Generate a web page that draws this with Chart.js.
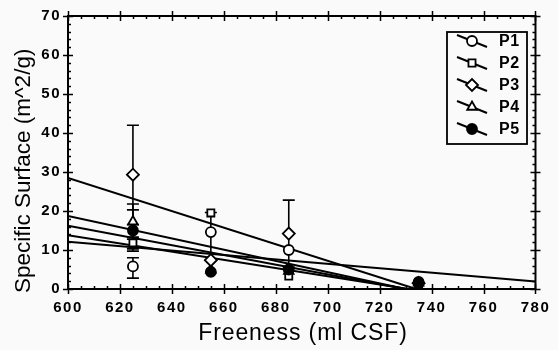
<!DOCTYPE html>
<html>
<head>
<meta charset="utf-8">
<script src="https://cdn.jsdelivr.net/npm/chart.js@4"></script>
<style>
  html, body { margin: 0; padding: 0; background: #fafafa; }
  #wrap { width: 558px; height: 350px; position: relative; }
</style>
</head>
<body>
<div id="wrap"><canvas id="c" width="558" height="350"></canvas></div>
<script>
// Freeness levels (ml CSF) at which the pulps were measured
const freeness = [625, 655, 685, 735];

// Specific surface (m^2/g) per pulp
const seriesNames = ['P1', 'P2', 'P3', 'P4', 'P5'];
const p1 = [5.8, 14.6, 10.0, 1.5];
const p2 = [11.8, 19.5, 3.3, 1.4];
const p3 = [29.3, 7.4, 14.2, 1.5];
const p4 = [17.3, 4.9, 4.6, 1.6];
const p5 = [15.0, 4.4, 5.0, 1.8];

// Error bar limits [low, high] per point (null = none drawn)
const p1Err = [[2.8, 8.0], [7.4, 19.6], null, null];
const p2Err = [[10.3, 13.3], null, null, null];
const p3Err = [[16.5, 42.0], null, [5.6, 22.8], null];
const p4Err = [[12.8, 21.8], null, null, null];
const p5Err = [[9.7, 20.3], null, null, null];

// Linear fits: freeness at start/end and specific surface at start/end
const fitX = [[600, 734], [600, 730], [600, 730], [600, 731], [600, 780]];
const fitY = [[28.5, 0], [18.7, 0], [16.2, 0], [13.8, 0], [12.1, 1.9]];

// Axis ticks and titles
const xTicks = [600, 620, 640, 660, 680, 700, 720, 740, 760, 780];
const yTicks = [0, 10, 20, 30, 40, 50, 60, 70];
const xTitle = 'Freeness (ml CSF)';
const yTitle = 'Specific Surface (m^2/g)';

const values = [p1, p2, p3, p4, p5];
const errors = [p1Err, p2Err, p3Err, p4Err, p5Err];
const shapes = ['circle', 'rect', 'rectRot', 'triangle', 'circle'];
const fills = ['#ffffff', '#ffffff', '#ffffff', '#ffffff', '#000000'];
const radii = [5, 5, 6, 5.5, 5];

const FONT = '"Liberation Sans", Arial, sans-serif';

const datasets = [];
fitX.forEach((xs, i) => {
  datasets.push({
    type: 'line',
    label: 'fit' + i,
    data: xs.map((x, k) => ({ x, y: fitY[i][k] })),
    borderColor: '#000',
    borderWidth: 2,
    pointRadius: 0,
    fill: false,
    order: 5
  });
});
values.forEach((vals, i) => {
  datasets.push({
    type: 'scatter',
    label: seriesNames[i],
    data: vals.map((v, k) => ({ x: freeness[k], y: v })),
    pointStyle: shapes[i],
    pointRadius: radii[i],
    pointBorderWidth: 1.8,
    pointBorderColor: '#000',
    pointBackgroundColor: fills[i],
    showLine: false,
    // filled markers sit on top of the open ones
    order: fills[i] === '#000000' ? 0 : 1
  });
});

const AREA = { left: 68, right: 542, top: 16, bottom: 289 };

// error bars, frame with ticks on all four sides, axis titles, legend box
const decorations = {
  id: 'decorations',
  beforeDraw(chart) {
    // slightly tracked-out tick numerals
    chart.ctx.letterSpacing = '1.5px';
  },
  beforeDatasetsDraw(chart) {
    const { ctx, scales: { x, y } } = chart;
    ctx.save();
    ctx.strokeStyle = '#000';
    ctx.lineWidth = 1.6;
    errors.forEach((errs) => {
      errs.forEach((e, k) => {
        if (!e) return;
        const px = x.getPixelForValue(freeness[k]);
        const lo = y.getPixelForValue(e[0]);
        const hi = y.getPixelForValue(e[1]);
        ctx.beginPath();
        ctx.moveTo(px, lo); ctx.lineTo(px, hi);
        ctx.moveTo(px - 6, lo); ctx.lineTo(px + 6, lo);
        ctx.moveTo(px - 6, hi); ctx.lineTo(px + 6, hi);
        ctx.stroke();
      });
    });
    ctx.restore();
  },
  afterDraw(chart) {
    const { ctx, chartArea: a, scales: { x, y } } = chart;
    ctx.save();
    ctx.strokeStyle = '#000';
    ctx.lineWidth = 2;
    ctx.strokeRect(a.left, a.top, a.right - a.left, a.bottom - a.top);
    ctx.lineWidth = 1.5;
    ctx.beginPath();
    // y major and minor ticks, left and right
    for (let v = 0; v <= 70; v += 2) {
      const py = Math.round(y.getPixelForValue(v)) + 0.5;
      const major = v % 10 === 0;
      if (major) {
        ctx.moveTo(a.left - 5, py); ctx.lineTo(a.left + 5, py);
        ctx.moveTo(a.right - 5, py); ctx.lineTo(a.right + 5, py);
      } else {
        ctx.moveTo(a.left, py); ctx.lineTo(a.left + 3, py);
        ctx.moveTo(a.right - 3, py); ctx.lineTo(a.right, py);
      }
    }
    // x major and minor ticks, bottom and top
    for (let v = 600; v <= 780; v += 5) {
      const px = Math.round(x.getPixelForValue(v)) + 0.5;
      const major = v % 20 === 0;
      if (major) {
        ctx.moveTo(px, a.bottom - 5); ctx.lineTo(px, a.bottom + 5);
        ctx.moveTo(px, a.top - 5); ctx.lineTo(px, a.top + 5);
      } else {
        ctx.moveTo(px, a.bottom - 3); ctx.lineTo(px, a.bottom);
        ctx.moveTo(px, a.top); ctx.lineTo(px, a.top + 3);
      }
    }
    ctx.stroke();

    // axis titles
    ctx.fillStyle = '#000';
    ctx.textBaseline = 'alphabetic';
    ctx.letterSpacing = '0.9px';
    ctx.font = '23px ' + FONT;
    ctx.textAlign = 'center';
    ctx.fillText(xTitle, 303, 340);
    ctx.letterSpacing = '0px';
    ctx.save();
    ctx.translate(30, 293);
    ctx.rotate(-Math.PI / 2);
    ctx.font = '22.5px ' + FONT;
    ctx.textAlign = 'left';
    ctx.fillText(yTitle, 0, 0);
    ctx.restore();

    // legend
    const lx = 447, ly = 32, lw = 80, lh = 112;
    ctx.fillStyle = '#fafafa';
    ctx.fillRect(lx, ly, lw, lh);
    ctx.lineWidth = 1.8;
    ctx.strokeRect(lx, ly, lw, lh);
    ctx.font = 'bold 16px ' + FONT;
    ctx.textBaseline = 'middle';
    ctx.textAlign = 'left';
    ctx.letterSpacing = '0.5px';
    seriesNames.forEach((name, i) => {
      const cy = 41 + i * 22;
      const cx = 472;
      ctx.lineWidth = 2;
      ctx.beginPath();
      ctx.moveTo(cx - 15, cy - 6);
      ctx.lineTo(cx + 15, cy + 6);
      ctx.stroke();
      ctx.lineWidth = 1.8;
      ctx.fillStyle = fills[i];
      Chart.helpers.drawPoint(ctx, {
        pointStyle: shapes[i], radius: radii[i], borderWidth: 1.8
      }, cx, cy);
      ctx.fillStyle = '#000';
      ctx.fillText(name, 499, cy + 1);
    });
    ctx.restore();
    ctx.letterSpacing = '0px';
  }
};

new Chart(document.getElementById('c'), {
  data: { datasets },
  options: {
    responsive: false,
    animation: false,
    layout: { padding: { left: 0, right: 558 - AREA.right, top: AREA.top, bottom: 0 } },
    plugins: { legend: { display: false }, tooltip: { enabled: false } },
    scales: {
      x: {
        type: 'linear',
        min: 600, max: 780,
        afterBuildTicks(s) { s.ticks = xTicks.map(v => ({ value: v })); },
        afterFit(s) { s.height = 350 - AREA.bottom; },
        grid: { display: false, drawTicks: false },
        border: { display: false },
        ticks: {
          color: '#000',
          padding: 10,
          maxRotation: 0,
          font: { family: FONT, size: 15, weight: 'bold' }
        },
        title: { display: false }
      },
      y: {
        type: 'linear',
        min: 0, max: 70,
        afterBuildTicks(s) { s.ticks = yTicks.map(v => ({ value: v })); },
        afterFit(s) { s.width = AREA.left; },
        grid: { display: false, drawTicks: false },
        border: { display: false },
        ticks: {
          color: '#000',
          padding: 7,
          font: { family: FONT, size: 15, weight: 'bold' }
        },
        title: { display: false }
      }
    }
  },
  plugins: [decorations]
});
</script>
</body>
</html>
